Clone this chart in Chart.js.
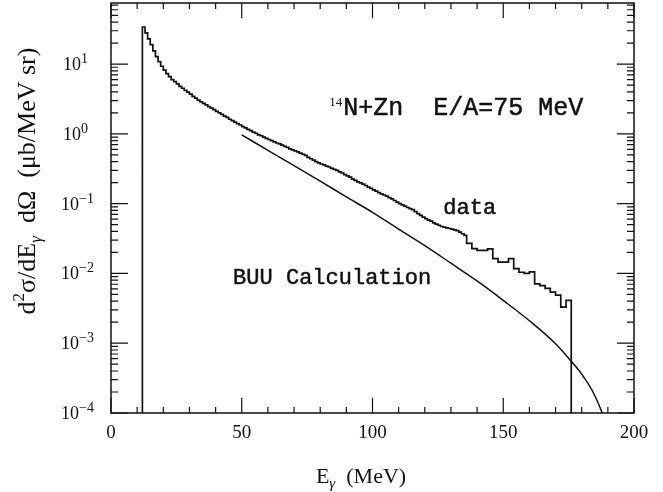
<!DOCTYPE html>
<html>
<head>
<meta charset="utf-8">
<script src="https://cdn.jsdelivr.net/npm/chart.js@4"></script>
<style>
  html, body { margin: 0; padding: 0; background: #fff; }
  #wrap { width: 663px; height: 492px; }
</style>
</head>
<body>
<div id="wrap"><canvas id="photonChart" width="663" height="492"></canvas></div>
<script>
// measured photon spectrum (ub/MeV sr): 1 MeV bins from 12 to 136, then 2 MeV bins to 176
const fineBinStart = 12, fineBinWidth = 1;
const fineValue = [34, 28, 23, 19, 15.5, 12.8, 10.8, 9.3, 8.2, 7.3, 6.6, 6.0,
  5.6, 5.2, 4.8, 4.5, 4.2, 3.95, 3.7, 3.45, 3.25, 3.05, 2.88, 2.74, 2.6, 2.46,
  2.34, 2.22, 2.1, 2.0, 1.9, 1.8, 1.72, 1.62, 1.55, 1.47, 1.40, 1.34, 1.27,
  1.22, 1.16, 1.11, 1.06, 1.02, 0.97, 0.94, 0.90, 0.86, 0.83, 0.80, 0.77,
  0.74, 0.72, 0.69, 0.66, 0.64, 0.61, 0.59, 0.57, 0.55, 0.53, 0.51, 0.49,
  0.46, 0.44, 0.42, 0.40, 0.385, 0.37, 0.36, 0.345, 0.335, 0.32, 0.31, 0.30,
  0.285, 0.275, 0.26, 0.25, 0.24, 0.225, 0.215, 0.205, 0.198, 0.19, 0.182,
  0.172, 0.165, 0.158, 0.151, 0.144, 0.138, 0.133, 0.128, 0.122, 0.117,
  0.111, 0.105, 0.100, 0.096, 0.092, 0.088, 0.085, 0.082, 0.077, 0.072,
  0.068, 0.064, 0.061, 0.058, 0.056, 0.053, 0.051, 0.049, 0.047, 0.046,
  0.045, 0.044, 0.043, 0.042, 0.041, 0.039, 0.037, 0.035];
const coarseBinWidth = 2;
const coarseValue = [0.027, 0.0227, 0.0214, 0.0214, 0.0225, 0.0163, 0.0145,
  0.0145, 0.0163, 0.0117, 0.0104, 0.0100, 0.0105, 0.0071, 0.0067, 0.0061,
  0.0054, 0.0049, 0.0033, 0.0041];

// BUU calculation
const buuEnergy = [50, 60, 70, 80, 90, 100, 110, 120, 130, 140, 150, 160, 170, 176, 180, 184, 187, 190];
const buuValue = [0.97, 0.58, 0.35, 0.21, 0.125, 0.075, 0.043, 0.025, 0.014, 0.0078,
  0.0041, 0.0021, 0.00098, 0.00055, 0.00036, 0.00021, 0.00012, 0.00006];

const xTicks = [0, 50, 100, 150, 200];
const yDecades = [-4, -3, -2, -1, 0, 1];
const yMin = 1e-4, yMax = 75;

// labels placed in data coordinates
const labelReaction = { x: 88.8, y: 1.84, sup: '14', text: 'N+Zn  E/A=75 MeV' };
const labelData = { x: 127.1, y: 0.072, text: 'data' };
const labelBuu = { x: 46.7, y: 0.00714, text: 'BUU Calculation' };

const INK = '#111';
const SERIF = "'Liberation Serif', 'DejaVu Serif', serif";
const MONO = "'Liberation Mono', 'DejaVu Sans Mono', monospace";

// histogram outline from the bins
const histPoints = [{ x: fineBinStart, y: yMin }];
let edge = fineBinStart;
fineValue.forEach(v => {
  histPoints.push({ x: edge, y: v });
  edge += fineBinWidth;
  histPoints.push({ x: edge, y: v });
});
coarseValue.forEach(v => {
  histPoints.push({ x: edge, y: v });
  edge += coarseBinWidth;
  histPoints.push({ x: edge, y: v });
});
histPoints.push({ x: edge, y: yMin });

const buuPoints = buuEnergy.map((e, i) => ({ x: e, y: buuValue[i] }));

function drawRuns(ctx, runs, x, y) {
  let cx = x;
  runs.forEach(r => {
    ctx.font = r.font;
    ctx.fillText(r.text, cx, y + (r.dy || 0));
    cx += ctx.measureText(r.text).width;
  });
  return cx - x;
}
function runsWidth(ctx, runs) {
  let w = 0;
  runs.forEach(r => { ctx.font = r.font; w += ctx.measureText(r.text).width; });
  return w;
}
function boldText(ctx, text, x, y) {
  ctx.fillText(text, x, y);
  ctx.strokeText(text, x, y);
}

const framePlugin = {
  id: 'paperFrame',
  afterDraw(chart) {
    const { ctx, chartArea: a } = chart;
    const xs = chart.scales.x, ys = chart.scales.y;
    ctx.save();
    ctx.strokeStyle = INK;
    ctx.fillStyle = INK;
    ctx.lineWidth = 1.5;
    ctx.strokeRect(a.left, a.top, a.right - a.left, a.bottom - a.top);

    // x ticks, inward, bottom and top
    ctx.lineWidth = 1.2;
    ctx.beginPath();
    for (let v = 0; v <= 200; v += 10) {
      const px = xs.getPixelForValue(v);
      const len = v % 50 === 0 ? 15 : 6;
      ctx.moveTo(px, a.bottom); ctx.lineTo(px, a.bottom - len);
      ctx.moveTo(px, a.top); ctx.lineTo(px, a.top + len);
    }
    // y ticks, inward, left and right
    yDecades.forEach(e => {
      for (let m = 1; m <= 9; m++) {
        const v = m * Math.pow(10, e);
        if (v > yMax) break;
        const py = ys.getPixelForValue(v);
        const len = m === 1 ? 17 : 7;
        ctx.moveTo(a.left, py); ctx.lineTo(a.left + len, py);
        ctx.moveTo(a.right, py); ctx.lineTo(a.right - len, py);
      }
    });
    ctx.stroke();

    // y tick labels 10^n
    ctx.textBaseline = 'alphabetic';
    ctx.textAlign = 'left';
    yDecades.forEach(e => {
      const py = ys.getPixelForValue(Math.pow(10, e));
      const exp = e < 0 ? '\u2212' + (-e) : String(e);
      const runs = [
        { text: '10', font: '18px ' + SERIF },
        { text: exp, font: '14px ' + SERIF, dy: -7 }
      ];
      const w = runsWidth(ctx, runs);
      const right = e < 0 ? 94 : 88;
      drawRuns(ctx, runs, right - w, py + 6);
    });

    // annotations
    ctx.lineWidth = 0.5;
    ctx.font = '13px ' + SERIF;
    const px = xs.getPixelForValue(labelReaction.x);
    const py = ys.getPixelForValue(labelReaction.y);
    const supW = ctx.measureText(labelReaction.sup).width;
    ctx.fillText(labelReaction.sup, px - supW - 1, py - 9);
    ctx.font = '25px ' + MONO;
    boldText(ctx, labelReaction.text, px, py);

    ctx.font = '22px ' + MONO;
    boldText(ctx, labelData.text, xs.getPixelForValue(labelData.x), ys.getPixelForValue(labelData.y));
    boldText(ctx, labelBuu.text, xs.getPixelForValue(labelBuu.x), ys.getPixelForValue(labelBuu.y));

    // x axis title
    const xRuns = [
      { text: 'E', font: '22px ' + SERIF },
      { text: '\u03b3', font: 'italic 15px ' + SERIF, dy: 5 },
      { text: '  (MeV)', font: '22px ' + SERIF }
    ];
    const xw = runsWidth(ctx, xRuns);
    drawRuns(ctx, xRuns, 361 - xw / 2, 483);

    // y axis title, rotated
    const yRuns = [
      { text: 'd', font: '26px ' + SERIF },
      { text: '2', font: '17px ' + SERIF, dy: -11 },
      { text: '\u03c3/dE', font: '26px ' + SERIF },
      { text: '\u03b3', font: 'italic 17px ' + SERIF, dy: 6 },
      { text: '  d\u03a9  (\u03bcb/MeV sr)', font: '26px ' + SERIF }
    ];
    ctx.translate(35, 181);
    ctx.rotate(-Math.PI / 2);
    const yw = runsWidth(ctx, yRuns);
    drawRuns(ctx, yRuns, -yw / 2, 0);
    ctx.restore();
  }
};

const chart = new Chart(document.getElementById('photonChart').getContext('2d'), {
  type: 'scatter',
  data: {
    datasets: [{
      label: 'data',
      data: histPoints,
      showLine: true,
      borderColor: INK,
      borderWidth: 1.7,
      pointRadius: 0,
      tension: 0
    }, {
      label: 'BUU Calculation',
      data: buuPoints,
      showLine: true,
      borderColor: INK,
      borderWidth: 1.5,
      pointRadius: 0,
      cubicInterpolationMode: 'monotone'
    }]
  },
  options: {
    responsive: false,
    animation: false,
    layout: { padding: { left: 0, right: 29, top: 3, bottom: 0 } },
    plugins: {
      legend: { display: false },
      tooltip: { enabled: false }
    },
    scales: {
      x: {
        type: 'linear',
        min: 0,
        max: 200,
        afterBuildTicks: scale => { scale.ticks = xTicks.map(v => ({ value: v })); },
        ticks: {
          color: INK,
          font: { family: SERIF, size: 19 },
          padding: 1,
          maxRotation: 0
        },
        grid: { display: false },
        border: { display: false },
        afterFit: scale => { scale.height = 79; }
      },
      y: {
        type: 'logarithmic',
        min: yMin,
        max: yMax,
        ticks: { display: false },
        grid: { display: false },
        border: { display: false },
        afterFit: scale => { scale.width = 111; }
      }
    }
  },
  plugins: [framePlugin]
});
</script>
</body>
</html>
